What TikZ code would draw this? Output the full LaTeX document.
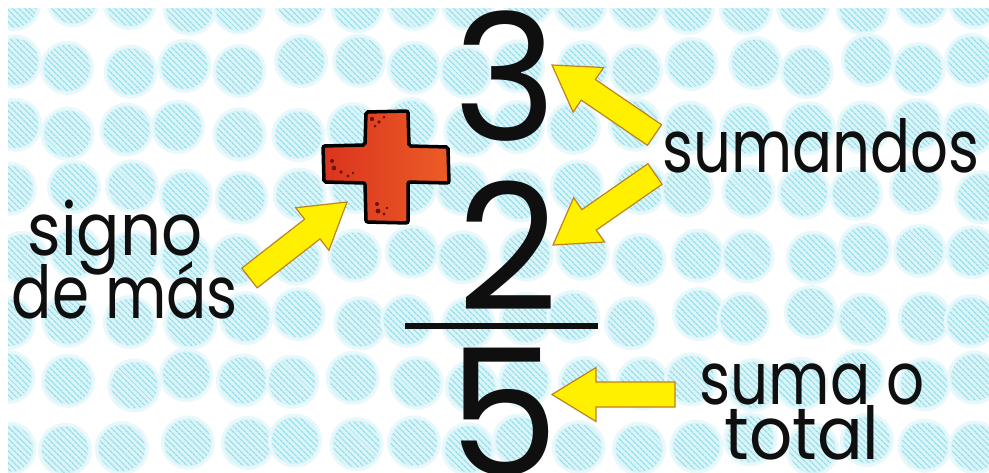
\documentclass[tikz,border=0pt]{standalone}
\usepackage{fontspec}
\setmainfont{Poppins}
\usetikzlibrary{calc,patterns.meta}
\definecolor{dotfill}{RGB}{218,245,249}
\definecolor{dothalo}{RGB}{232,248,251}
\definecolor{dothatch}{RGB}{148,221,232}
\definecolor{arrowfill}{RGB}{255,240,0}
\definecolor{arrowline}{RGB}{190,130,30}
\definecolor{plusL}{RGB}{218,52,30}
\definecolor{plusM}{RGB}{242,110,48}
\definecolor{plusR}{RGB}{236,92,38}
\definecolor{speck}{RGB}{110,18,12}
\definecolor{ink}{RGB}{15,15,15}
\newcommand\yarrow[3]{%
  \coordinate (#1t) at (#2);
  \coordinate (#1p) at (#3);
  \coordinate (#1b) at ($(#1p)!44pt!(#1t)$);
  \draw[yarrowsty] ($(#1t)!12.5pt!90:(#1p)$) -- ($(#1b)!12.5pt!-90:(#1t)$)
    -- ($(#1b)!27pt!-90:(#1t)$) -- (#1p) -- ($(#1b)!27pt!90:(#1t)$)
    -- ($(#1b)!12.5pt!90:(#1t)$) -- ($(#1t)!12.5pt!-90:(#1p)$) -- cycle;
}
\newcommand\txt[2]{\resizebox{#1pt}{\height}{\fontsize{73}{73}\selectfont #2}}
\begin{document}
\begin{tikzpicture}[x=1pt,y=-1pt,
  lbl/.style={inner sep=0pt, anchor=base, text=ink},
  digit/.style={inner sep=0pt, anchor=base, text=ink, font=\fontsize{176}{176}\selectfont},
  yarrowsty/.style={fill=arrowfill, draw=arrowline, line width=1.2pt, line join=miter},
  dot/.style={fill=dotfill, draw=none},
  halo/.style={fill=dothalo, draw=none},
  hatch/.style={pattern={Lines[angle=-45,distance=4pt,line width=1.3pt]}, pattern color=dothatch},
  specks/.style={fill=speck}
]
\useasboundingbox (0,0) rectangle (989,472);
\fill[white] (0,0) rectangle (989,472);
\begin{scope}
\clip (8,8) rectangle (989,472);
\pgfmathsetseed{7}
\foreach \r in {0,...,7}{
  \foreach \c in {0,...,17}{
    \pgfmathsetmacro\cx{15+56.5*\c+7*rand}
    \pgfmathsetmacro\cy{3+63*\r+6*rand}
    \fill[halo] (\cx,\cy) circle (27pt);
    \fill[dot] (\cx,\cy) circle (24pt);
    \fill[hatch] (\cx,\cy) circle (23pt);
  }}
\end{scope}
% fraction bar
\coordinate (barL) at (405,326);
\coordinate (barR) at (598,326);
\draw[line width=6pt, ink] (barL) -- (barR);
% digits
\node[digit] (n3) at (505,140) {3};
\node[digit] (n2) at (508,310) {2};
\node[digit] (n5) at (504,475) {5};
% plus sign
\shadedraw[left color=plusL, middle color=plusM, right color=plusR, draw=black, line width=3.5pt, rounded corners=2pt]
  (366,112) -- (408,111) -- (409,146) -- (448,147) -- (449,183) -- (408,182) -- (408,223)
  -- (366,222) -- (365,183) -- (324,182) -- (323,146) -- (365,145) -- cycle;
\foreach \p/\s in {(372,119)/2.2,(379,122)/1.8,(384,117)/1.5,(375,126)/1.5,
                   (332,161)/2,(334,168)/2.3,(341,172)/1.8,(348,176)/1.6,(353,173)/1.4,
                   (377,204)/2,(378,211)/2.4,(384,214)/1.6,(387,208)/1.4}
  \fill[specks] \p circle (\s pt);
% labels
\node[lbl] (signo) at (115,255) {\txt{175}{signo}};
\node[lbl] (demas) at (125,318) {\txt{226}{de más}};
\node[lbl] (sumandos) at (821,172) {\txt{317}{sumandos}};
\node[lbl] (sumao) at (812,404) {\txt{225}{suma o}};
\node[lbl] (total) at (802,459) {\txt{155}{total}};
% arrows
\yarrow{aA}{654.5,135}{552,65}
\yarrow{aB}{655,174}{553,245}
\yarrow{aC}{675,394.5}{552,394.5}
\yarrow{aD}{249.5,278}{347,202}
\end{tikzpicture}
\end{document}
